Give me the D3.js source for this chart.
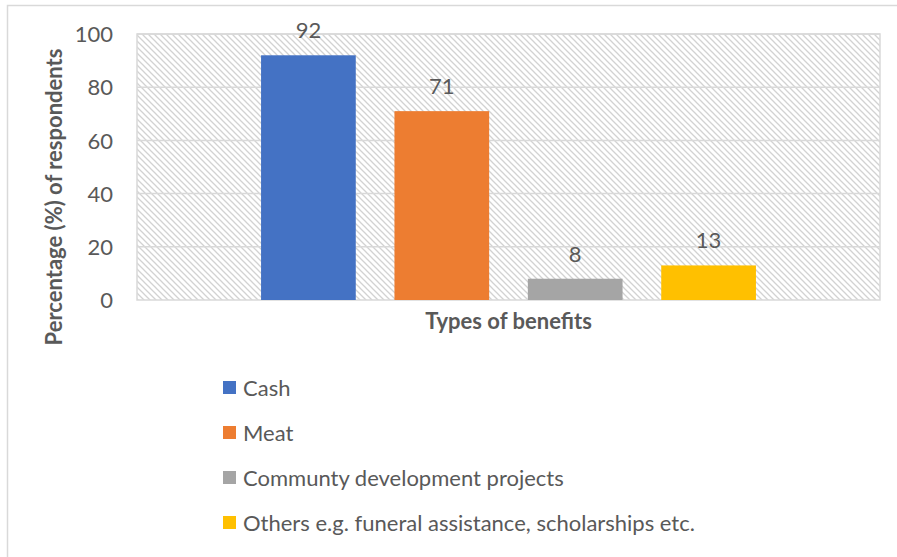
<!DOCTYPE html>
<html>
<head>
<meta charset="utf-8">
<script src="https://cdn.jsdelivr.net/npm/d3@7/dist/d3.min.js"></script>
<style>
  html, body { margin: 0; padding: 0; background: #fff; }
  svg { display: block; }
  text { font-family: Lato, "Open Sans", sans-serif; fill: #595959; }
</style>
</head>
<body>
<svg id="chart" width="897" height="557"></svg>
<script>
// Benefits received by respondents
const categories = ["Cash", "Meat", "Communty development projects", "Others e.g. funeral assistance, scholarships etc."];
const values = [92, 71, 8, 13];
const colors = ["#4472C4", "#ED7D31", "#A5A5A5", "#FFC000"];
const yTicks = [0, 20, 40, 60, 80, 100];

const svg = d3.select("#chart");

// outer chart frame
svg.append("path")
  .attr("d", "M7.5,557 L7.5,5.5 L897,5.5")
  .attr("fill", "none").attr("stroke", "#d9d9d9").attr("stroke-width", 1.5);

const plot = { left: 137, right: 880, top: 34, bottom: 300 };

const x = d3.scaleBand().domain(categories)
  .range([plot.left, plot.right]).paddingInner(0.29).paddingOuter(0.93);
const y = d3.scaleLinear().domain([0, 100]).range([plot.bottom, plot.top]);

// hatched plot background
const defs = svg.append("defs");
const pat = defs.append("pattern")
  .attr("id", "hatch").attr("patternUnits", "userSpaceOnUse")
  .attr("width", 6).attr("height", 6);
pat.append("rect").attr("width", 6).attr("height", 6).attr("fill", "#fff");
pat.append("path")
  .attr("d", "M-1,-1 L7,7 M-1,5 L1,7 M5,-1 L7,1")
  .attr("stroke", "#d2d2d2").attr("stroke-width", 1.3);

svg.append("rect")
  .attr("x", plot.left).attr("y", plot.top)
  .attr("width", plot.right - plot.left).attr("height", plot.bottom - plot.top)
  .attr("fill", "url(#hatch)").attr("stroke", "#d9d9d9").attr("stroke-width", 1.5);

// gridlines
svg.append("g").selectAll("line").data(yTicks.filter(t => t > 0)).join("line")
  .attr("x1", plot.left).attr("x2", plot.right)
  .attr("y1", d => y(d)).attr("y2", d => y(d))
  .attr("stroke", "#d9d9d9").attr("stroke-width", 1.5);

// y axis labels
const yAxis = svg.append("g")
  .attr("transform", `translate(${plot.left - 24},0)`)
  .call(d3.axisLeft(y).tickValues(yTicks).tickSize(0).tickPadding(0));
yAxis.select(".domain").remove();
yAxis.selectAll("text")
  .style("font-family", "Lato, 'Open Sans', sans-serif")
  .attr("font-size", 22).attr("fill", "#595959").attr("dy", "0.35em");

// bars
svg.append("g").selectAll("rect").data(categories).join("rect")
  .attr("x", d => x(d)).attr("width", x.bandwidth())
  .attr("y", (d, i) => y(values[i]))
  .attr("height", (d, i) => y(0) - y(values[i]))
  .attr("fill", (d, i) => colors[i]);

// value labels
svg.append("g").selectAll("text").data(categories).join("text")
  .attr("x", d => x(d) + x.bandwidth() / 2)
  .attr("y", (d, i) => y(values[i]) - 17)
  .attr("text-anchor", "middle").attr("font-size", 22)
  .text((d, i) => values[i]);

// axis titles
svg.append("text")
  .attr("x", (plot.left + plot.right) / 2).attr("y", 329)
  .attr("text-anchor", "middle").attr("font-size", 22).attr("font-weight", "bold")
  .text("Types of benefits");

svg.append("text")
  .attr("transform", `translate(62,${(plot.top + plot.bottom) / 2 + 30}) rotate(-90)`)
  .attr("text-anchor", "middle").attr("font-size", 22).attr("font-weight", "bold")
  .text("Percentage (%) of respondents");

// legend
const legend = svg.append("g").attr("transform", "translate(223,388)");
const rows = legend.selectAll("g").data(categories).join("g")
  .attr("transform", (d, i) => `translate(0,${i * 45})`);
rows.append("rect").attr("x", 0).attr("y", -7).attr("width", 13).attr("height", 13)
  .attr("fill", (d, i) => colors[i]);
rows.append("text").attr("x", 20).attr("y", 0).attr("dy", "0.35em")
  .attr("font-size", 22).text(d => d);
</script>
</body>
</html>
